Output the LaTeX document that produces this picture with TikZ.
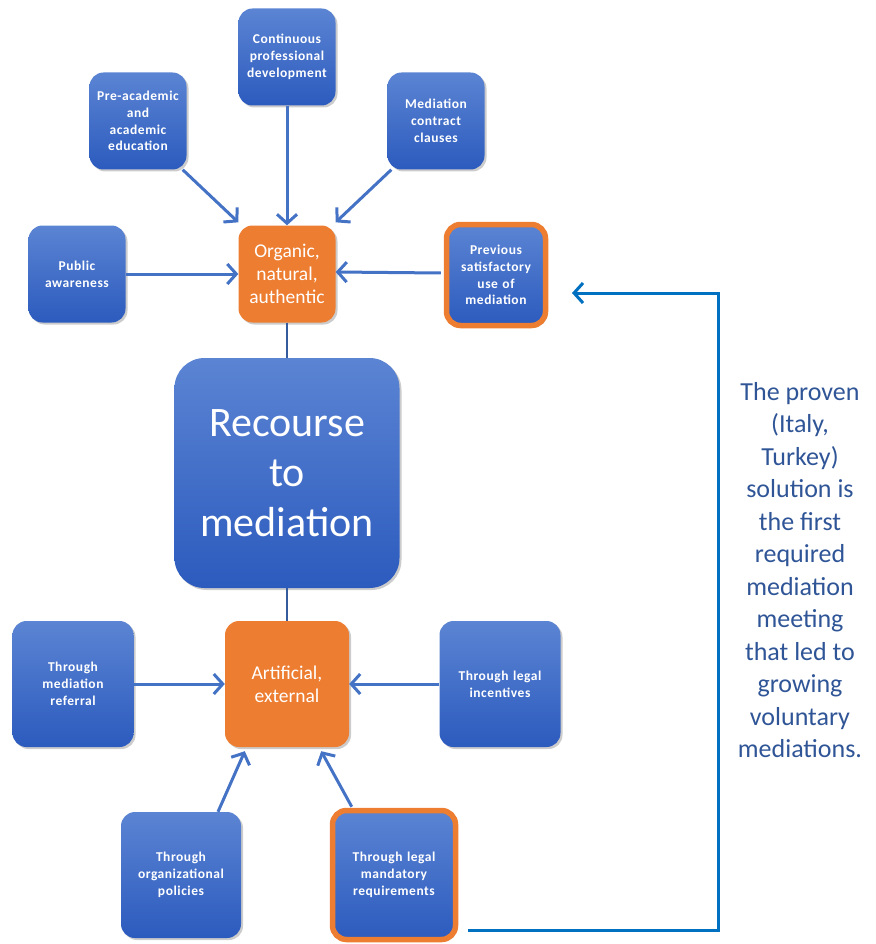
\documentclass[tikz,border=0pt]{standalone}
\usepackage{fontspec}
\setmainfont{Carlito}
\usetikzlibrary{arrows.meta,shadows,calc}
\definecolor{bluetop}{HTML}{5B84D3}
\definecolor{bluebot}{HTML}{2C5BBE}
\definecolor{orng}{HTML}{ED7D31}
\definecolor{arrowblue}{HTML}{4472C4}
\definecolor{linkblue}{HTML}{0070C0}
\definecolor{txtblue}{HTML}{2F5597}
\begin{document}
\begin{tikzpicture}[x=1pt,y=-1pt,
  shad/.style={drop shadow={shadow xshift=2pt,shadow yshift=-2pt,fill=black!40}},
  box/.style={shad,rounded corners=14pt,top color=bluetop,bottom color=bluebot,
    text=white,align=center,inner sep=0pt,minimum width=97pt,minimum height=97pt,
    text width=94pt,font=\bfseries\fontsize{13.5}{16.8}\selectfont\addfontfeature{LetterSpace=4}},
  bigbox/.style={box,minimum width=121pt,minimum height=126pt,text width=116pt},
  obox/.style={shad,rounded corners=14pt,fill=orng,text=white,align=center,inner sep=0pt,
    font=\fontsize{19.5}{23}\selectfont},
  ring/.style={draw=orng,line width=5.5pt},
  arr/.style={draw=arrowblue,line width=3pt,-{Straight Barb[length=9pt,width=20pt]}},
  thin/.style={draw=arrowblue!80!black,line width=1.2pt},
]
\useasboundingbox (0,0) rectangle (875,944);

% top group
\node[box] (cont) at (287,57) {Continuous\\professional\\development};
\node[box] (pre) at (138,121) {Pre-academic\\and\\academic\\education};
\node[box] (med) at (436,121) {Mediation\\contract\\clauses};
\node[box] (pub) at (77,274) {Public\\awareness};
\node[obox,minimum width=97pt,minimum height=97pt] (org) at (287,274) {Organic,\\natural,\\authentic};
\node[box,ring,minimum width=99pt,minimum height=101pt] (prev) at (496,275) {Previous\\satisfactory\\use of\\mediation};

% centre
\node[box,rounded corners=30pt,minimum width=225pt,minimum height=230pt,text width=220pt,
  font=\fontsize{42}{50}\selectfont] (rec) at (287,473) {Recourse\\to\\mediation};

% bottom group
\node[obox,minimum width=124pt,minimum height=126pt] (art) at (287,684) {Artificial,\\external};
\node[bigbox] (ref) at (73,684) {Through\\mediation\\referral};
\node[bigbox] (inc) at (500,684) {Through legal\\incentives};
\node[bigbox,minimum width=120pt] (pol) at (181,875) {Through\\organizational\\policies};
\node[bigbox,ring,minimum width=123pt,minimum height=129pt] (mand) at (394,875) {Through legal\\mandatory\\requirements};

% connectors
\draw[arr] (cont.south) -- (org.north);
\draw[arr] ($(pre.south east)+(-4,0)$) -- ($(org.north west)+(0,-3)$);
\draw[arr] ($(med.south west)+(4,0)$) -- ($(org.north east)+(0,-3)$);
\draw[arr] (pub.east) -- (org.west);
\draw[arr] ($(prev.west)+(-3,-2)$) -- ($(org.east)+(0,-2)$);
\draw[thin] (org.south) -- (rec.north);
\draw[thin] (rec.south) -- (art.north);
\draw[arr] (ref.east) -- (art.west);
\draw[arr] (inc.west) -- (art.east);
\draw[arr] ($(pol.north)+(37,0)$) -- ($(art.south west)+(20,4)$);
\draw[arr] ($(mand.north west)+(22,-1)$) -- ($(art.south east)+(-28,4)$);

% feedback loop
\coordinate (lstart) at (468,930);
\coordinate (lcornA) at (718,930);
\coordinate (lcornB) at (718,293);
\coordinate (lend) at (572,293);
\draw[draw=linkblue,line width=3pt,-{Straight Barb[length=9pt,width=20pt]}]
  (lstart) -- (lcornA) -- (lcornB) -- (lend);

\node[text=txtblue,align=center,font=\fontsize{26}{32.5}\selectfont] (note) at (800,570)
  {The proven\\(Italy,\\Turkey)\\solution is\\the first\\required\\mediation\\meeting\\that led to\\growing\\voluntary\\mediations.};
\end{tikzpicture}
\end{document}
